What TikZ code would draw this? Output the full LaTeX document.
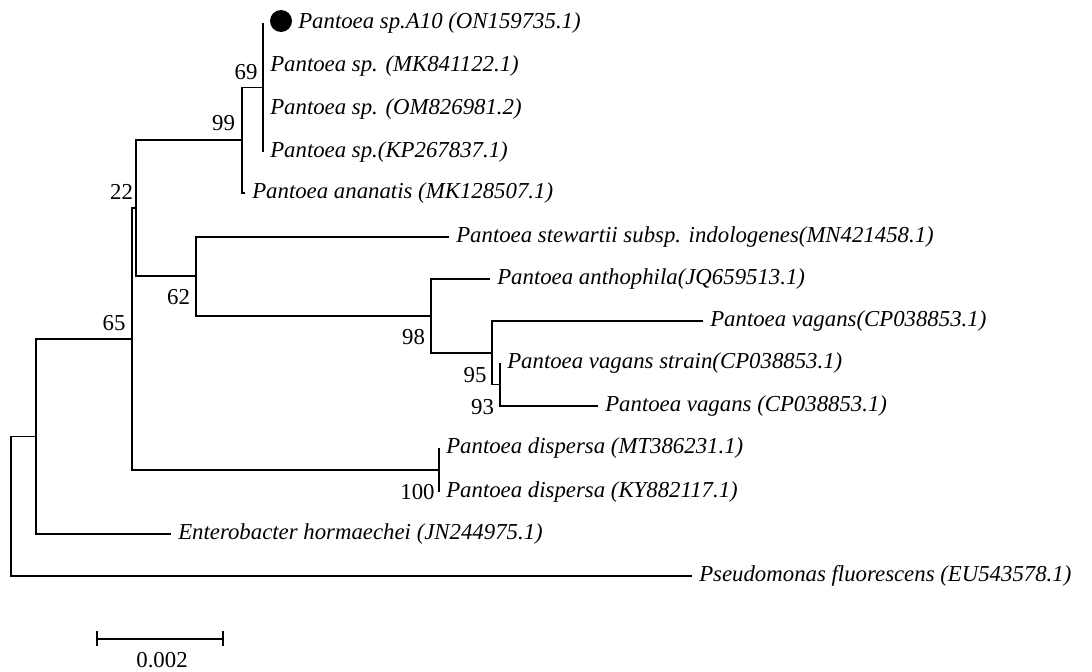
\documentclass[tikz,border=0pt]{standalone}
\usepackage{fontspec}
\setmainfont{Liberation Serif}
\begin{document}
\begin{tikzpicture}[x=0.75pt,y=-0.75pt,
  br/.style={line width=1.4pt},
  leaf/.style={anchor=west,inner xsep=5.25pt,inner ysep=0pt,font=\fontsize{17.1}{20}\selectfont\itshape},
  boot/.style={inner sep=0pt,font=\fontsize{17.1}{20}\selectfont},
  dotmark/.style={circle,fill=black,inner sep=0pt,minimum size=16.5pt}]
\useasboundingbox (0,0) rectangle (1092,671);
% leaves
\node[leaf,inner xsep=26.25pt] (a10) at (263,23) {Pantoea sp.A10 (ON159735.1)};
\node[dotmark] (dot) at (281,21) {};
\node[leaf] (mk) at (263,66) {Pantoea sp. (MK841122.1)};
\node[leaf] (om) at (263,109) {Pantoea sp. (OM826981.2)};
\node[leaf] (kp) at (263,152) {Pantoea sp.(KP267837.1)};
\node[leaf] (ana) at (245,193) {Pantoea ananatis (MK128507.1)};
\node[leaf] (stw) at (449,237) {Pantoea stewartii subsp. indologenes(MN421458.1)};
\node[leaf] (ant) at (490,279) {Pantoea anthophila(JQ659513.1)};
\node[leaf] (vg1) at (703,321) {Pantoea vagans(CP038853.1)};
\node[leaf] (vgs) at (500,363) {Pantoea vagans strain(CP038853.1)};
\node[leaf] (vg2) at (598,406) {Pantoea vagans (CP038853.1)};
\node[leaf] (ds1) at (439,448) {Pantoea dispersa (MT386231.1)};
\node[leaf] (ds2) at (439,492) {Pantoea dispersa (KY882117.1)};
\node[leaf] (ent) at (171,534) {Enterobacter hormaechei (JN244975.1)};
\node[leaf] (pse) at (692,576) {Pseudomonas fluorescens (EU543578.1)};
% internal nodes
\coordinate (r) at (11,506);
\coordinate (nA) at (36,436.5);
\coordinate (n65) at (132,339);
\coordinate (n22) at (136,208);
\coordinate (n99) at (242,140);
\coordinate (n69) at (263,87.5);
\coordinate (n62) at (196,276);
\coordinate (n98) at (431,316);
\coordinate (n95) at (492,353);
\coordinate (n93) at (500,384.5);
\coordinate (nD) at (439,470);
% branches
\draw[br] (nA) -| (r) |- (pse.west);
\draw[br] (n65) -| (nA) |- (ent.west);
\draw[br] (n22) -| (n65) |- (nD);
\draw[br] (n99) -| (n22) |- (n62);
\draw[br] (n69) -| (n99) |- (ana.west);
\draw[br] (a10.west) -- (kp.west);
\draw[br] (stw.west) -| (n62) |- (n98);
\draw[br] (ant.west) -| (n98) |- (n95);
\draw[br] (vg1.west) -| (n95) |- (n93);
\draw[br] (vgs.west) |- (vg2.west);
\draw[br] (ds1.west) -- (ds2.west);
% bootstrap values
\node[boot] (b69) at (246,72) {69};
\node[boot] (b99) at (223.5,123) {99};
\node[boot] (b22) at (121.5,192) {22};
\node[boot] (b65) at (114,323) {65};
\node[boot] (b62) at (178.5,297) {62};
\node[boot] (b98) at (413.5,337) {98};
\node[boot] (b95) at (475,375) {95};
\node[boot] (b93) at (482.5,407) {93};
\node[boot] (b100) at (417.5,492) {100};
% scale bar
\coordinate (sbL) at (97,639);
\coordinate (sbR) at (223,639);
\draw[br] (sbL) -- (sbR);
\draw[br] ([yshift=6pt]sbL) -- ([yshift=-5pt]sbL);
\draw[br] ([yshift=6pt]sbR) -- ([yshift=-5pt]sbR);
\node[boot] (sbt) at (162,660) {0.002};
\end{tikzpicture}
\end{document}
